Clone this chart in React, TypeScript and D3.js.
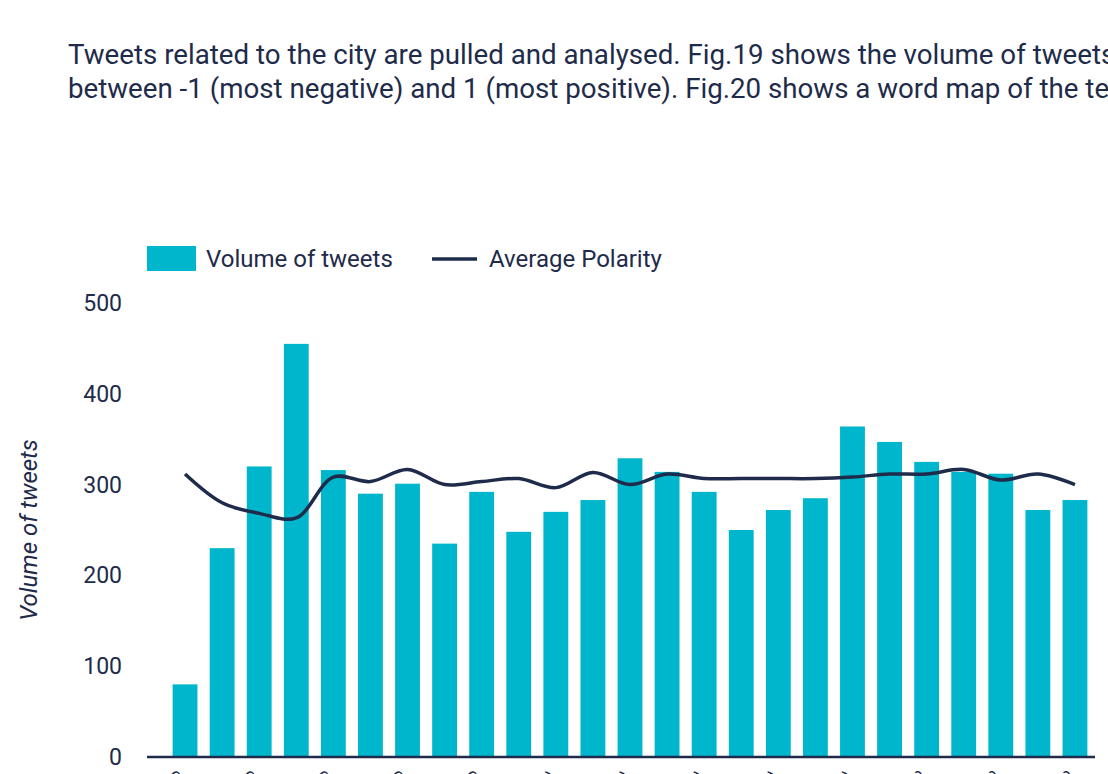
import * as React from 'react'
import * as d3 from 'd3'

const days = [
  '01-Mar', '02-Mar', '03-Mar', '04-Mar', '05-Mar', '06-Mar', '07-Mar', '08-Mar', '09-Mar',
  '10-Mar', '11-Mar', '12-Mar', '13-Mar', '14-Mar', '15-Mar', '16-Mar', '17-Mar', '18-Mar',
  '19-Mar', '20-Mar', '21-Mar', '22-Mar', '23-Mar', '24-Mar', '25-Mar',
]
const volume = [80, 230, 320, 455, 316, 290, 301, 235, 292, 248, 270, 283, 329, 314, 292, 250, 272, 285, 364, 347, 325, 314, 312, 272, 283]
const polarity = [
  0.187, 0.168, 0.161, 0.158, 0.185, 0.182, 0.19, 0.18, 0.182, 0.184, 0.178, 0.188, 0.18,
  0.187, 0.184, 0.184, 0.184, 0.184, 0.185, 0.187, 0.187, 0.19, 0.183, 0.187, 0.18,
]
const yTicks = [0, 100, 200, 300, 400, 500]
const introLines = [
  'Tweets related to the city are pulled and analysed. Fig.19 shows the volume of tweets and their average polarity',
  'between -1 (most negative) and 1 (most positive). Fig.20 shows a word map of the text of the tweets.',
]

const W = 1108
const H = 774
const NAVY = '#1e2b4a'
const TEAL = '#00b6cc'
const FONT = 'Roboto, "Noto Sans", sans-serif'

export default function App() {
  const ref = React.useRef<SVGSVGElement>(null)

  React.useEffect(() => {
    if (!ref.current) return
    const svg = d3.select(ref.current)
    svg.selectAll('*').remove()

    // intro paragraph (runs past the right edge, as in the source page)
    introLines.forEach((t, i) => {
      svg.append('text')
        .attr('x', 68)
        .attr('y', 64 + i * 34)
        .attr('fill', NAVY)
        .attr('font-size', '27.7px')
        .attr('font-family', FONT)
        .text(t)
    })

    const x = d3.scaleBand<string>()
      .domain(days)
      .range([166.5, 1093.5])
      .paddingInner(0.33)
      .paddingOuter(0.165)
    const y = d3.scaleLinear().domain([0, 500]).range([757, 303])
    const yPol = d3.scaleLinear().domain([0, 0.3]).range([757, 303])

    // legend
    svg.append('rect').attr('x', 147).attr('y', 246).attr('width', 49).attr('height', 25).attr('fill', TEAL)
    svg.append('text').attr('x', 206).attr('y', 267).attr('fill', NAVY)
      .attr('font-size', '24px').attr('font-family', FONT).text('Volume of tweets')
    svg.append('line').attr('x1', 432).attr('x2', 477).attr('y1', 259).attr('y2', 259)
      .attr('stroke', NAVY).attr('stroke-width', 3.5)
    svg.append('text').attr('x', 489).attr('y', 267).attr('fill', NAVY)
      .attr('font-size', '24px').attr('font-family', FONT).text('Average Polarity')

    // y ticks
    yTicks.forEach((t) => {
      svg.append('text')
        .attr('x', 122)
        .attr('y', y(t))
        .attr('dy', '0.35em')
        .attr('text-anchor', 'end')
        .attr('fill', NAVY)
        .attr('font-size', '23px')
        .attr('font-family', FONT)
        .text(t)
    })

    svg.append('text')
      .attr('transform', `translate(37,${530}) rotate(-90)`)
      .attr('text-anchor', 'middle')
      .attr('fill', NAVY)
      .attr('font-size', '24px')
      .attr('font-style', 'italic')
      .attr('font-family', FONT)
      .text('Volume of tweets')

    // bars
    svg.append('g')
      .selectAll('rect')
      .data(volume)
      .join('rect')
      .attr('x', (_, i) => x(days[i])!)
      .attr('y', (d) => y(d))
      .attr('width', x.bandwidth())
      .attr('height', (d) => y(0) - y(d))
      .attr('fill', TEAL)

    // axis line
    svg.append('line').attr('x1', 147).attr('x2', 1095).attr('y1', 757).attr('y2', 757)
      .attr('stroke', NAVY).attr('stroke-width', 2.5)

    // x labels (every other day, rotated, only their tips show above the fold)
    days.forEach((d, i) => {
      if (i % 2 !== 0) return
      const cx = x(d)! + x.bandwidth() / 2 - 19
      svg.append('text')
        .attr('transform', `translate(${cx},${778}) rotate(45)`)
        .attr('text-anchor', 'start')
        .attr('fill', NAVY)
        .attr('font-size', '18px')
        .attr('font-family', FONT)
        .text(d)
    })

    // polarity line
    const line = d3.line<number>()
      .x((_, i) => x(days[i])! + x.bandwidth() / 2)
      .y((d) => yPol(d))
      .curve(d3.curveCatmullRom.alpha(0.5))
    svg.append('path')
      .datum(polarity)
      .attr('d', line)
      .attr('fill', 'none')
      .attr('stroke', NAVY)
      .attr('stroke-width', 3.5)
  }, [])

  return (
    <div style={{ position: 'absolute', left: 0, top: 0, width: W, height: H, overflow: 'hidden', background: '#fff' }}>
      <svg ref={ref} width={W} height={H} style={{ display: 'block' }} />
    </div>
  )
}
